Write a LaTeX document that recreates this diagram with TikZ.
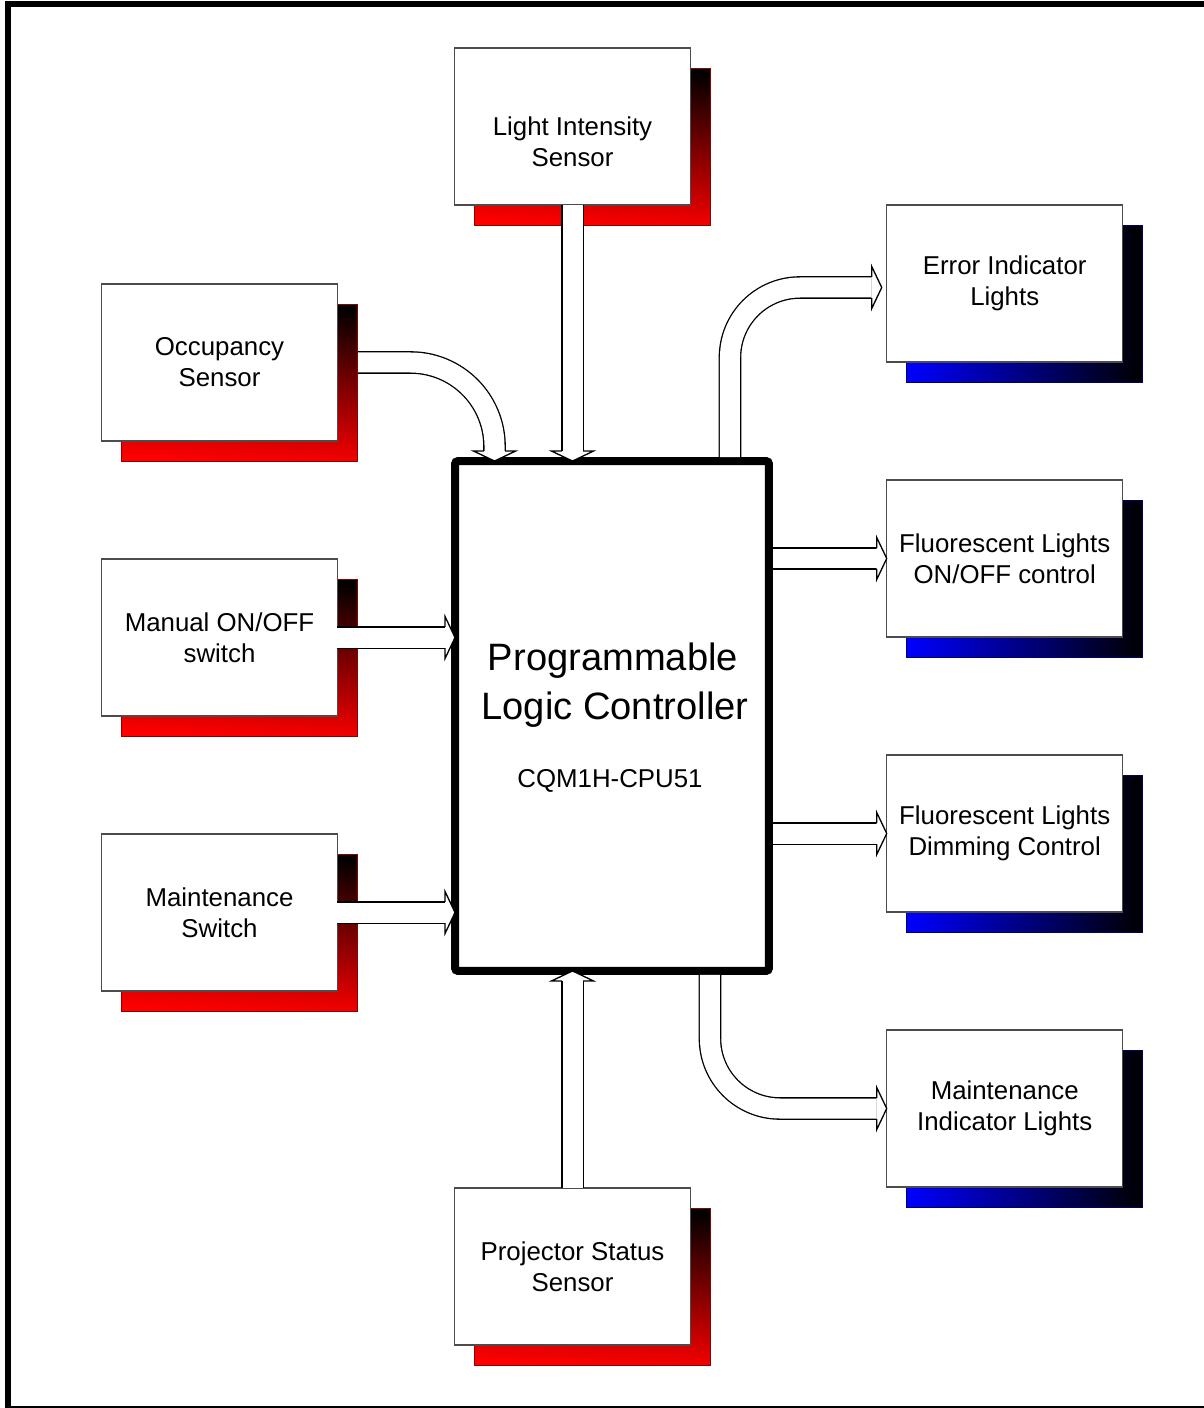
\documentclass[tikz,border=0pt]{standalone}
\usepackage{fontspec}
\setmainfont{Liberation Sans}
\usetikzlibrary{calc}
\pgfdeclarelayer{under}
\pgfdeclarelayer{shade}
\pgfsetlayers{under,shade,main}

\newcommand\boxfont{\fontsize{14.7}{17.6}\selectfont}
\newcommand\plcfont{\fontsize{21.7}{26}\selectfont}
% hollow arrow head: tip at #1, direction #2 (degrees)
\newcommand\blockhead[2]{\draw[headline, shift={#1}, rotate=#2] (-10,10.6) -- (-10,21) -- (0,0) -- (-10,-21) -- (-10,-10.6);}
\newcommand\redshadow[1]{\shade[redfade] ($(#1.north west)+(20,20)$) rectangle ($(#1.south east)+(20,20)$);}
\newcommand\blueshadow[1]{\shade[bluefade] ($(#1.north west)+(20,20)$) rectangle ($(#1.south east)+(20,20)$);}

\tikzset{
  unit/.style={draw=black!70, line width=0.7pt, fill=white, minimum width=4.72cm,
    minimum height=3.14cm, inner sep=0pt, outer sep=0pt, align=center, font=\boxfont},
  plcbox/.style={draw=black, line width=0.16cm, fill=white, rounded corners=0.06cm,
    minimum width=6.28cm, minimum height=10.2cm, inner sep=0pt, outer sep=0pt},
  plcword/.style={inner sep=0pt, anchor=base},
  shaft/.style={draw=black, line width=0.75pt, double=white, double distance=0.4cm},
  headline/.style={draw=black, line width=0.75pt, fill=white, line join=miter},
  redfade/.style={top color=black, bottom color=red, shading angle=-3,
    draw=red!55!black, line width=0.4pt},
  bluefade/.style={left color=blue, right color=black, draw=blue!40!black, line width=0.4pt},
}

\begin{document}
\begin{tikzpicture}[x=0.02cm, y=-0.02cm]
\useasboundingbox (0,0) rectangle (1203,1408);

% outer frame
\draw[line width=0.12cm, line join=miter] (1220,4.5) -- (8,4.5) -- (8,1408.5) -- (1220,1408.5);

% controller
\node[plcbox] (plc) at (612,716) {};
\node[plcword, font=\plcfont] at ($(plc.north)+(1,209)$) {Programmable};
\node[plcword, font=\plcfont] at ($(plc.north)+(3,258)$) {Logic Controller};
\node[plcword, font=\boxfont] at ($(plc.north)+(-2,326)$) {CQM1H-CPU51};

% inputs
\node[unit] (light) at (572.5,126.5) {};
\node[font=\boxfont, align=center] at ($(light.center)+(0,15)$) {Light Intensity\\Sensor};
\node[unit] (occ) at (219.5,362.5) {Occupancy\\Sensor};
\node[unit] (manual) at (219.5,637.5) {Manual ON/OFF\\switch};
\node[unit] (mswitch) at (219.5,912.5) {Maintenance\\Switch};
\node[unit] (proj) at (572.5,1266.5) {Projector Status\\Sensor};

% outputs
\node[unit] (err) at (1004.7,283.5) {Error Indicator\\Lights};
\node[unit] (onoff) at (1004.7,558.5) {Fluorescent Lights\\ON/OFF control};
\node[unit] (dim) at (1004.7,833.5) {Fluorescent Lights\\Dimming Control};
\node[unit] (mind) at (1004.7,1108.5) {Maintenance\\Indicator Lights};

% drop shadows
\begin{pgfonlayer}{shade}
  \redshadow{light}
  \redshadow{occ}
  \redshadow{manual}
  \redshadow{mswitch}
  \redshadow{proj}
  \blueshadow{err}
  \blueshadow{onoff}
  \blueshadow{dim}
  \blueshadow{mind}
\end{pgfonlayer}

% arrow tips
\coordinate (tOcc) at ($(plc.north west)+(39.5,0)$);
\coordinate (tLight) at (light.south |- plc.north);
\coordinate (tManual) at (plc.west |- manual.east);
\coordinate (tSwitch) at (plc.west |- mswitch.east);
\coordinate (tProj) at (proj.north |- plc.south);
\coordinate (tErr) at ($(err.west)+(-5,4)$);
\coordinate (tOnoff) at (onoff.west);
\coordinate (tDim) at (dim.west);
\coordinate (tMind) at (mind.west);

% shafts
\begin{pgfonlayer}{under}
  \draw[shaft, rounded corners=1.68cm] (occ.east) -| ($(tOcc)+(0,-10)$);
\end{pgfonlayer}
\draw[shaft] (light.south) -- ($(tLight)+(0,-10)$);
\draw[shaft] (manual.east) -- ($(tManual)+(-10,0)$);
\draw[shaft] (mswitch.east) -- ($(tSwitch)+(-10,0)$);
\draw[shaft] (proj.north) -- ($(tProj)+(0,10)$);
\draw[shaft, rounded corners=1.4cm] ($(plc.north east)+(-39,-4)$) |- ($(tErr)+(-10,0)$);
\draw[shaft] ($(plc.east |- onoff.west)+(4,0)$) -- ($(tOnoff)+(-10,0)$);
\draw[shaft] ($(plc.east |- dim.west)+(4,0)$) -- ($(tDim)+(-10,0)$);
\draw[shaft, rounded corners=1.4cm] ($(plc.south east)+(-59,4)$) |- ($(tMind)+(-10,0)$);

% heads
\blockhead{(tOcc)}{-90}
\blockhead{(tLight)}{-90}
\blockhead{(tManual)}{0}
\blockhead{(tSwitch)}{0}
\blockhead{(tProj)}{90}
\blockhead{(tErr)}{0}
\blockhead{(tOnoff)}{0}
\blockhead{(tDim)}{0}
\blockhead{(tMind)}{0}
\end{tikzpicture}
\end{document}
